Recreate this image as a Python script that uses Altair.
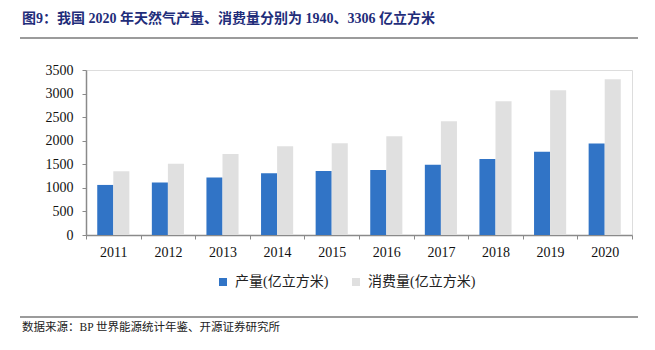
import altair as alt
import pandas as pd

years = ["2011", "2012", "2013", "2014", "2015", "2016", "2017", "2018", "2019", "2020"]
production = [1062, 1115, 1218, 1312, 1357, 1379, 1492, 1614, 1767, 1940]
consumption = [1352, 1509, 1719, 1884, 1947, 2094, 2413, 2839, 3073, 3306]
series_names = ["产量(亿立方米)", "消费量(亿立方米)"]
series_colors = ["#3174C6", "#E0E0E0"]
y_ticks = [0, 500, 1000, 1500, 2000, 2500, 3000, 3500]
title_text = "图9：我国 2020 年天然气产量、消费量分别为 1940、3306 亿立方米"
source_text = "数据来源：BP 世界能源统计年鉴、开源证券研究所"

FONT = "Liberation Serif, Noto Sans CJK SC"
CJK = "Liberation Serif, Noto Sans CJK SC"

rows = []
for i, y in enumerate(years):
    rows.append({"year": y, "series": series_names[0], "value": production[i]})
    rows.append({"year": y, "series": series_names[1], "value": consumption[i]})
df = pd.DataFrame(rows)

bars = alt.Chart(df).mark_bar().encode(
    x=alt.X("year:N", sort=years,
            scale=alt.Scale(paddingInner=0, paddingOuter=0),
            axis=alt.Axis(title=None, labelAngle=0, tickBand="extent",
                          labelFont=FONT, labelFontSize=14, labelColor="#111",
                          domainColor="#8a8a8a", domainWidth=1.5,
                          tickColor="#8a8a8a", tickSize=4, labelPadding=6)),
    xOffset=alt.XOffset("series:N", sort=series_names,
                        scale=alt.Scale(paddingInner=0, paddingOuter=0.7)),
    y=alt.Y("value:Q", scale=alt.Scale(domain=[0, 3500], nice=False),
            axis=alt.Axis(title=None, values=y_ticks, grid=False, format="d",
                          labelFont=FONT, labelFontSize=14, labelColor="#111",
                          domainColor="#8a8a8a", domainWidth=1.5,
                          tickColor="#8a8a8a", tickSize=4, labelPadding=9)),
    color=alt.Color("series:N", sort=series_names,
                    scale=alt.Scale(domain=series_names, range=series_colors),
                    legend=alt.Legend(title=None, orient="none", direction="horizontal",
                                      legendX=130, legendY=205,
                                      symbolType="square", symbolSize=64,
                                      symbolStrokeWidth=0,
                                      labelFont=CJK, labelFontSize=14, labelColor="#222",
                                      columnPadding=20, labelOffset=5)),
)

tdf = pd.DataFrame({"t": [title_text], "s": [source_text]})

title = alt.Chart(tdf).mark_text(
    align="left", baseline="middle", font=CJK, fontSize=14, fontWeight="bold",
    color="#1F2D7A"
).encode(text="t:N", x=alt.value(-64), y=alt.value(-51))

source = alt.Chart(tdf).mark_text(
    align="left", baseline="middle", font=CJK, fontSize=11.5, color="#222"
).encode(text="s:N", x=alt.value(-64), y=alt.value(258))

rule_top = alt.Chart(tdf).mark_rule(color="#7a7a7a", strokeWidth=1.5).encode(
    x=alt.value(-66), x2=alt.value(552), y=alt.value(-32))
rule_bot = alt.Chart(tdf).mark_rule(color="#7a7a7a", strokeWidth=1.5).encode(
    x=alt.value(-66), x2=alt.value(552), y=alt.value(247))

chart = alt.layer(bars, title, source, rule_top, rule_bot).properties(
    width=546, height=165,
    autosize=alt.AutoSizeParams(type="none"),
    padding={"left": 86, "top": 70, "right": 23, "bottom": 115},
).configure_view(stroke=None).configure(background="white")

chart.save("out.html", embed_options={"renderer": "svg", "actions": False})
